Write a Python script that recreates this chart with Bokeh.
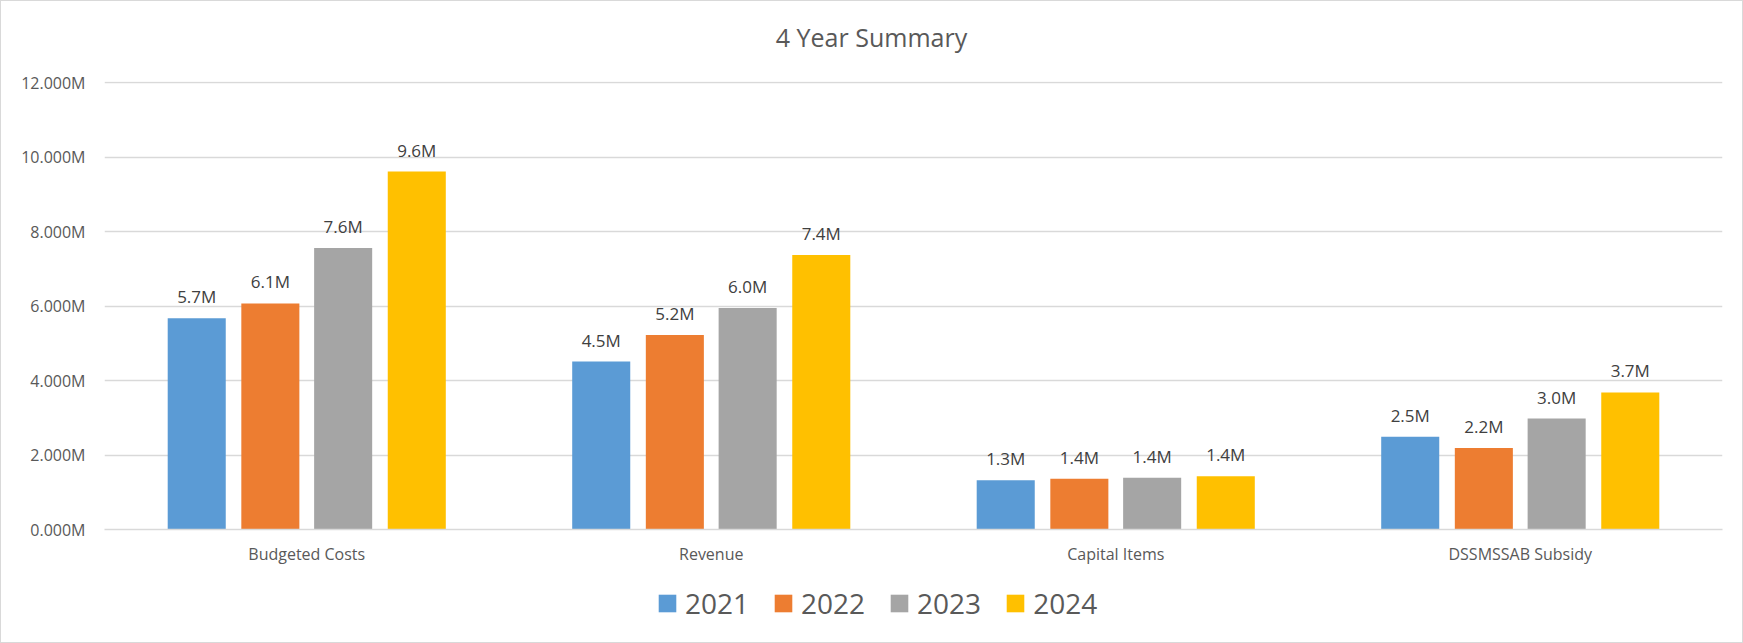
from bokeh.plotting import figure
from bokeh.models import (ColumnDataSource, LabelSet, Legend, LegendItem, Div,
                          SingleIntervalTicker, PrintfTickFormatter, Range1d)
from bokeh.layouts import column
from bokeh.core.properties import value
from bokeh.transform import dodge
from bokeh.embed import file_html
from bokeh.resources import INLINE

categories = ["Budgeted Costs", "Revenue", "Capital Items", "DSSMSSAB Subsidy"]
years = ["2021", "2022", "2023", "2024"]
v2021 = [5.67, 4.51, 1.32, 2.49]
v2022 = [6.07, 5.22, 1.36, 2.19]
v2023 = [7.56, 5.95, 1.39, 2.98]
v2024 = [9.61, 7.37, 1.43, 3.68]
series = [v2021, v2022, v2023, v2024]
colors = ["#5B9BD5", "#ED7D31", "#A5A5A5", "#FFC000"]
offsets = [-0.272, -0.09, 0.09, 0.272]
title_text = "4 Year Summary"

FONT = "Open Sans"
W = 1741

title = Div(text=('<div style="width:%dpx;padding-top:16px;line-height:40px;'
                  'text-align:center;font-family:\'Open Sans\';font-size:25px;'
                  'color:#595959;white-space:nowrap">%s</div>') % (W, title_text),
            width=W, height=62, margin=0)

p = figure(x_range=categories, y_range=Range1d(0, 12.03), width=W, height=513,
           output_backend="svg", toolbar_location=None,
           min_border_left=103, min_border_right=20, min_border_top=18,
           min_border_bottom=47)

for yr, vals, col, off in zip(years, series, colors, offsets):
    src = ColumnDataSource(dict(cat=categories, val=vals,
                                lbl=[f"{v:.1f}M" for v in vals]))
    p.vbar(x=dodge("cat", off, range=p.x_range), top="val", width=0.1435,
           source=src, fill_color=col, line_color=None)
    ls = LabelSet(x=dodge("cat", off, range=p.x_range), y="val", text="lbl",
                  source=src, text_align="center", text_baseline="alphabetic",
                  y_offset=15, text_font=value(FONT), text_font_size=value("17px"),
                  text_color="#404040")
    p.add_layout(ls)

p.xgrid.grid_line_color = None
p.ygrid.grid_line_color = "#D9D9D9"
p.ygrid.grid_line_width = 1.3
p.outline_line_color = None

p.yaxis.ticker = SingleIntervalTicker(interval=2)
p.yaxis.formatter = PrintfTickFormatter(format="%.3fM")
p.yaxis.axis_line_color = None
p.yaxis.major_tick_line_color = None
p.yaxis.minor_tick_line_color = None
p.yaxis.major_label_text_font = FONT
p.yaxis.major_label_text_font_size = "16px"
p.yaxis.major_label_text_color = "#595959"
p.yaxis.major_label_standoff = 13

p.xaxis.axis_line_color = "#D9D9D9"
p.xaxis.axis_line_width = 1.3
p.xaxis.major_tick_line_color = None
p.xaxis.minor_tick_line_color = None
p.xaxis.major_label_text_font = FONT
p.xaxis.major_label_text_font_size = "16px"
p.xaxis.major_label_text_color = "#595959"
p.xaxis.major_label_standoff = 7

# legend strip (its swatches come from off-screen proxy bars)
pl = figure(width=W, height=66, x_range=Range1d(0, 1), y_range=Range1d(0, 1),
            output_backend="svg", toolbar_location=None, min_border=0,
            x_axis_location=None, y_axis_location=None)
pl.outline_line_color = None
pl.grid.visible = False
items = []
for yr, col in zip(years, colors):
    r = pl.vbar(x=[-5], top=[0], width=0.1, fill_color=col, line_color=None)
    items.append(LegendItem(label=yr, renderers=[r]))
legend = Legend(items=items, orientation="horizontal", location=(552, 20),
                glyph_width=22, glyph_height=22, label_standoff=7, spacing=23,
                padding=0, margin=0, border_line_color=None,
                background_fill_alpha=0, label_text_font=FONT,
                label_text_font_size="28px", label_text_color="#595959")
pl.add_layout(legend, "center")

layout = column(title, p, pl, spacing=0, styles={"border": "1px solid #d9d9d9"})

open("out.html", "w").write(file_html(layout, INLINE))
